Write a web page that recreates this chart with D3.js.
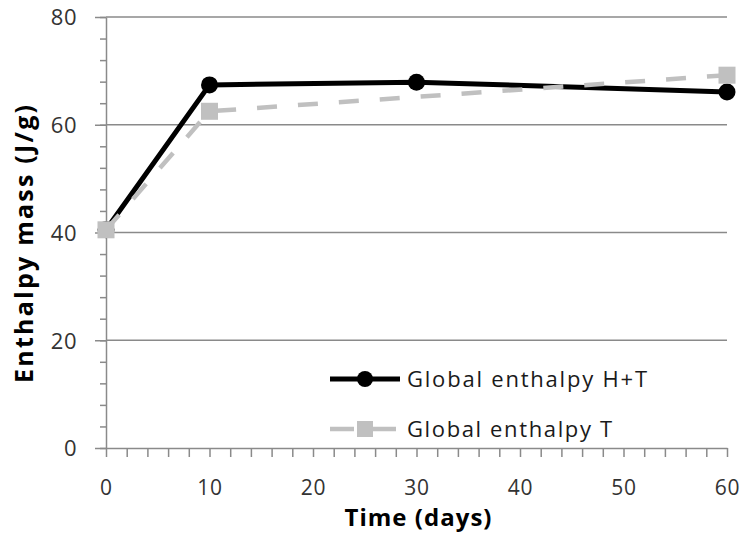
<!DOCTYPE html>
<html>
<head>
<meta charset="utf-8">
<script src="https://cdn.jsdelivr.net/npm/d3@7"></script>
<style>
  html, body { margin: 0; padding: 0; background: #fff; }
  svg { display: block; }
</style>
</head>
<body>
<svg id="chart" width="743" height="533"></svg>
<script>
// ---- data ----
const daysHT = [0, 10, 30, 60];
const globalHT = [40.5, 67.4, 67.9, 66.1];
const daysT = [0, 10, 60];
const globalT = [40.5, 62.5, 69.2];
const xTickValues = [0, 10, 20, 30, 40, 50, 60];
const yTickValues = [0, 20, 40, 60, 80];
const seriesNames = ["Global enthalpy H+T", "Global enthalpy T"];
const xTitle = "Time (days)";
const yTitle = "Enthalpy mass (J/g)";

(function () {
// ---- layout ----
const svg = d3.select("#chart");
const pL = 106, pR = 727, pT = 17, pB = 448;
const x = d3.scaleLinear().domain([0, 60]).range([pL, pR]);
const y = d3.scaleLinear().domain([0, 80]).range([pB, pT]);
const axisColor = "#8a8a8a";
const font = "'Open Sans', sans-serif";

// gridlines
svg.append("g")
  .selectAll("line")
  .data(yTickValues.filter(v => v > 0))
  .join("line")
  .attr("x1", pL).attr("x2", pR)
  .attr("y1", d => y(d)).attr("y2", d => y(d))
  .attr("stroke", axisColor).attr("stroke-width", 1.5);

// y minor ticks
const yMinor = svg.append("g").attr("transform", `translate(${pL},0)`)
  .call(d3.axisLeft(y).tickValues(d3.range(0, 81, 4)).tickSize(6).tickFormat(""));
yMinor.select(".domain").remove();
// y major axis
const yAxis = svg.append("g").attr("transform", `translate(${pL},0)`)
  .call(d3.axisLeft(y).tickValues(yTickValues).tickSize(11).tickPadding(18).tickSizeOuter(0));
// x axis (ticks every 2 days, labels every 10)
const xMinor = svg.append("g").attr("transform", `translate(0,${pB})`)
  .call(d3.axisBottom(x).tickValues(d3.range(0, 61, 2)).tickSize(9).tickFormat("").tickSizeOuter(0));
const xAxis = svg.append("g").attr("transform", `translate(0,${pB})`)
  .call(d3.axisBottom(x).tickValues(xTickValues).tickSize(0).tickSizeOuter(0));
xAxis.select(".domain").remove();

[yMinor, yAxis, xMinor].forEach(g => {
  g.selectAll("line").attr("stroke", axisColor).attr("stroke-width", 1.5);
  g.selectAll(".domain").attr("stroke", axisColor).attr("stroke-width", 1.5);
});
yAxis.selectAll("text")
  .attr("font-family", font).attr("font-size", 22).attr("fill", "#333")
  .attr("dy", "0.36em").attr("letter-spacing", 0.5);
xAxis.selectAll("text")
  .attr("font-family", font).attr("font-size", 21).attr("fill", "#333")
  .attr("y", 47).attr("dy", 0).attr("letter-spacing", 0.8);

// ---- series ----
const ptsHT = daysHT.map((d, i) => [d, globalHT[i]]);
const ptsT = daysT.map((d, i) => [d, globalT[i]]);
const line = d3.line().x(d => x(d[0])).y(d => y(d[1]));

svg.append("path").datum(ptsHT)
  .attr("d", line).attr("fill", "none")
  .attr("stroke", "#000").attr("stroke-width", 5).attr("stroke-linejoin", "round");
svg.append("g").selectAll("circle").data(ptsHT).join("circle")
  .attr("cx", d => x(d[0])).attr("cy", d => y(d[1])).attr("r", 8.5).attr("fill", "#000");

svg.append("path").datum(ptsT)
  .attr("d", line).attr("fill", "none")
  .attr("stroke", "#c0c0c0").attr("stroke-width", 4.5)
  .attr("stroke-dasharray", "20,21");
const sq = 17;
svg.append("g").selectAll("rect").data(ptsT).join("rect")
  .attr("x", d => x(d[0]) - sq / 2).attr("y", d => y(d[1]) - sq / 2)
  .attr("width", sq).attr("height", sq).attr("fill", "#c0c0c0");

// ---- legend ----
const lg = svg.append("g");
lg.append("line").attr("x1", 330).attr("x2", 400).attr("y1", 379).attr("y2", 379)
  .attr("stroke", "#000").attr("stroke-width", 5);
lg.append("circle").attr("cx", 365).attr("cy", 379).attr("r", 8).attr("fill", "#000");
lg.append("line").attr("x1", 330).attr("x2", 396).attr("y1", 429).attr("y2", 429)
  .attr("stroke", "#c0c0c0").attr("stroke-width", 4.5).attr("stroke-dasharray", "24,18");
lg.append("rect").attr("x", 357).attr("y", 421).attr("width", 16).attr("height", 16).attr("fill", "#c0c0c0");
lg.append("text").attr("x", 407).attr("y", 387).text(seriesNames[0])
  .attr("font-family", font).attr("font-size", 22).attr("fill", "#1a1a1a")
  .attr("textLength", 240).attr("lengthAdjust", "spacing");
lg.append("text").attr("x", 407).attr("y", 437).text(seriesNames[1])
  .attr("font-family", font).attr("font-size", 22).attr("fill", "#1a1a1a")
  .attr("textLength", 205).attr("lengthAdjust", "spacing");

// ---- titles ----
svg.append("text").attr("x", 418).attr("y", 526).attr("text-anchor", "middle")
  .attr("font-family", font).attr("font-weight", "bold").attr("font-size", 24)
  .attr("fill", "#000").attr("textLength", 147).attr("lengthAdjust", "spacing")
  .text(xTitle);
svg.append("text").attr("transform", "translate(33,244) rotate(-90)")
  .attr("text-anchor", "middle")
  .attr("font-family", font).attr("font-weight", "bold").attr("font-size", 25)
  .attr("fill", "#000").attr("textLength", 278).attr("lengthAdjust", "spacing")
  .text(yTitle);
})();
</script>
</body>
</html>
